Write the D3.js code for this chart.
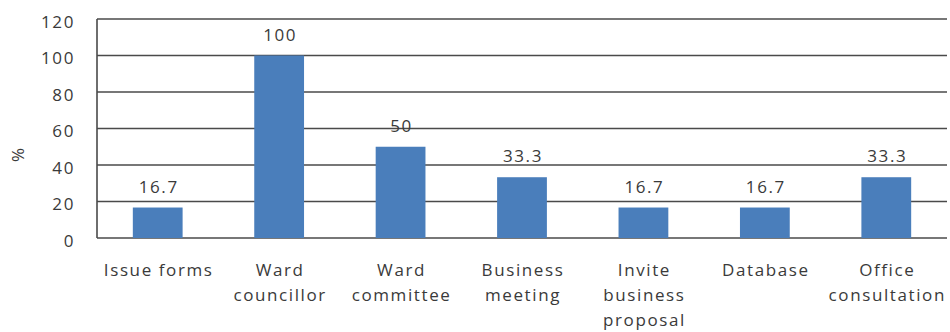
<!DOCTYPE html>
<html>
<head>
<meta charset="utf-8">
<script src="https://cdn.jsdelivr.net/npm/d3@7"></script>
<style>
  html, body { margin: 0; padding: 0; background: #fff; }
  svg { display: block; }
  text { font-family: "Open Sans", sans-serif; fill: #3a3a3a; }
</style>
</head>
<body>
<svg id="chart" width="950" height="332"></svg>
<script>
// Share of respondents (%) by engagement channel
const categories = [
  ["Issue forms"],
  ["Ward", "councillor"],
  ["Ward", "committee"],
  ["Business", "meeting"],
  ["Invite", "business", "proposal"],
  ["Database"],
  ["Office", "consultation"]
];
const values = [16.7, 100, 50, 33.3, 16.7, 16.7, 33.3];
const valueLabels = ["16.7", "100", "50", "33.3", "16.7", "16.7", "33.3"];
const yTicks = [0, 20, 40, 60, 80, 100, 120];

const FONT_SIZE = "17px";
const SPACING = "1.6px";

const svg = d3.select("#chart");
const margin = { left: 97, right: 3, top: 19, bottom: 94 };
const W = 950, H = 332;

const x = d3.scaleBand()
  .domain(d3.range(categories.length))
  .range([margin.left, W - margin.right])
  .paddingInner(0.59)
  .paddingOuter(0.295);

const y = d3.scaleLinear()
  .domain([0, 120])
  .range([H - margin.bottom, margin.top]);

// Horizontal gridlines
svg.append("g")
  .selectAll("line")
  .data(yTicks)
  .join("line")
  .attr("x1", margin.left)
  .attr("x2", W - margin.right)
  .attr("y1", d => y(d))
  .attr("y2", d => y(d))
  .attr("stroke", "#4a4a4a")
  .attr("stroke-width", 1.6);

// Left axis line
svg.append("line")
  .attr("x1", margin.left).attr("x2", margin.left)
  .attr("y1", y(120)).attr("y2", y(0))
  .attr("stroke", "#4a4a4a")
  .attr("stroke-width", 1.6);

// Y tick labels
const yAxis = d3.axisLeft(y).tickValues(yTicks).tickSize(0).tickPadding(22);
const gy = svg.append("g")
  .attr("transform", `translate(${margin.left},3)`)
  .call(yAxis);
gy.select(".domain").remove();
gy.selectAll("text")
  .style("font-family", "'Open Sans', sans-serif")
  .style("font-size", FONT_SIZE)
  .style("letter-spacing", SPACING)
  .attr("fill", "#3a3a3a");

// Y axis title
svg.append("text")
  .attr("transform", `translate(19,155) rotate(-90)`)
  .attr("text-anchor", "middle")
  .attr("dominant-baseline", "middle")
  .style("font-size", FONT_SIZE)
  .text("%");

// Bars
svg.append("g")
  .selectAll("rect")
  .data(values)
  .join("rect")
  .attr("x", (d, i) => x(i))
  .attr("width", x.bandwidth())
  .attr("y", d => y(d))
  .attr("height", d => y(0) - y(d))
  .attr("fill", "#4a7ebb");

// Value labels
svg.append("g")
  .selectAll("text")
  .data(values)
  .join("text")
  .attr("x", (d, i) => x(i) + x.bandwidth() / 2 + 1)
  .attr("y", d => y(d) - 15)
  .attr("text-anchor", "middle")
  .style("font-size", FONT_SIZE)
  .style("letter-spacing", SPACING)
  .text((d, i) => valueLabels[i]);

// Category labels
const cat = svg.append("g")
  .selectAll("text")
  .data(categories)
  .join("text")
  .attr("x", (d, i) => x(i) + x.bandwidth() / 2 + 1)
  .attr("y", 276)
  .attr("text-anchor", "middle")
  .style("font-size", FONT_SIZE)
  .style("letter-spacing", SPACING);
cat.selectAll("tspan")
  .data(d => d)
  .join("tspan")
  .attr("x", function () { return d3.select(this.parentNode).attr("x"); })
  .attr("dy", (d, j) => j === 0 ? 0 : 25)
  .text(d => d);
</script>
</body>
</html>
